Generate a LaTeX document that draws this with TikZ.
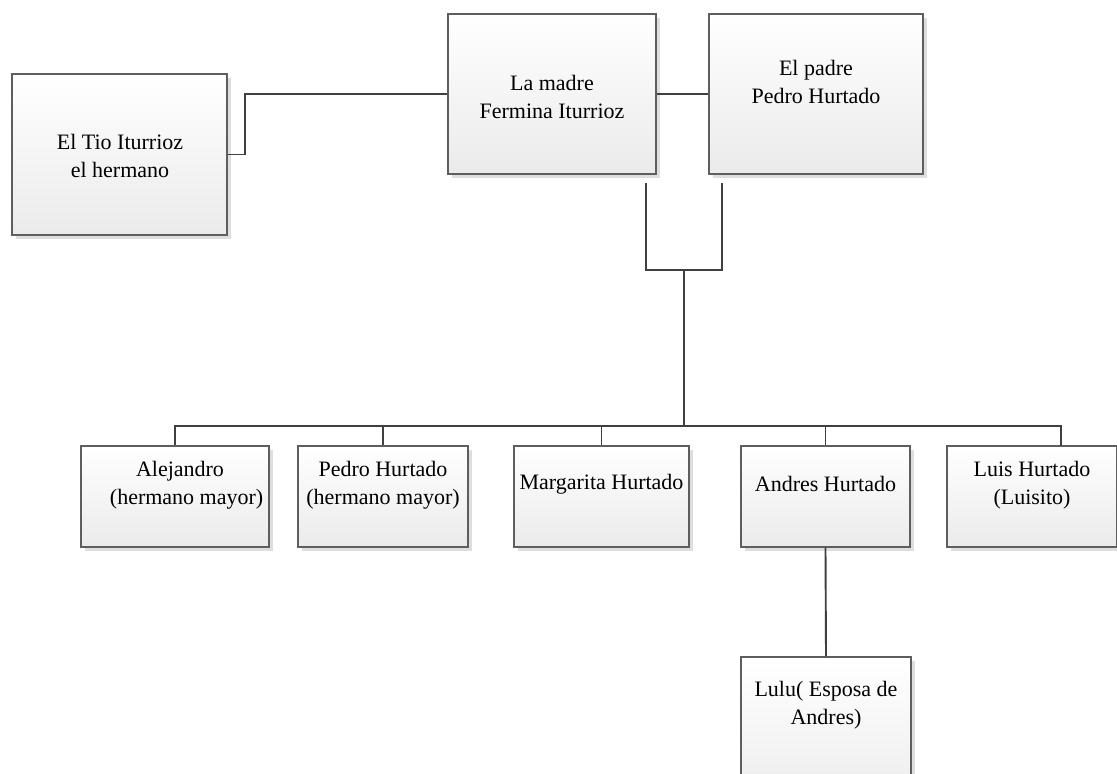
\documentclass[tikz,border=0pt]{standalone}
\usepackage{fontspec}
\setmainfont{Liberation Serif}
\usetikzlibrary{shadows,calc}
\definecolor{boxline}{HTML}{5E5E5E}
\definecolor{wire}{HTML}{404040}
\tikzset{
  famboxst/.style={rectangle, draw=boxline, line width=1.1pt, inner sep=0pt,
    top color=white, bottom color=black!8,
    general shadow={fill=black!13, shadow xshift=3.5pt, shadow yshift=-3.5pt}},
  famtext/.style={align=center, inner sep=0pt, font=\fontsize{22}{28}\selectfont},
  wirest/.style={draw=wire, line width=1.9pt}
}
\begin{document}
\begin{tikzpicture}[x=1pt,y=-1pt]
\useasboundingbox (0,0) rectangle (1117,774);
\clip (0,0) rectangle (1117,774);
% boxes
\node[famboxst, minimum width=215pt, minimum height=161pt] (tio) at (119.5,154.5) {};
\node[famboxst, minimum width=208pt, minimum height=160pt] (madre) at (552,94) {};
\node[famboxst, minimum width=214pt, minimum height=160pt] (padre) at (816,94) {};
\node[famboxst, minimum width=188pt, minimum height=101pt] (ale) at (175,496.5) {};
\node[famboxst, minimum width=170pt, minimum height=101pt] (pedro) at (383,496.5) {};
\node[famboxst, minimum width=175pt, minimum height=101pt] (marg) at (601.5,496.5) {};
\node[famboxst, minimum width=169pt, minimum height=101pt] (andres) at (825.5,496.5) {};
\node[famboxst, minimum width=170pt, minimum height=101pt] (luis) at (1032,496.5) {};
\node[famboxst, minimum width=170pt, minimum height=160pt] (lulu) at (826,737) {};
% texts
\node[famtext] (tiot) at (120,156) {El Tio Iturrioz\\el hermano};
\node[famtext] (madret) at (552,97) {La madre\\Fermina Iturrioz};
\node[famtext] (padret) at (816,82) {El padre\\Pedro Hurtado};
\node[famtext] (alet) at (180,485) {Alejandro\\\hspace*{0.6em}(hermano mayor)};
\node[famtext] (pedrot) at (383,485) {Pedro Hurtado\\(hermano mayor)};
\node[famtext] (margt) at (601.5,484) {Margarita Hurtado};
\node[famtext] (andrest) at (825.5,484) {Andres Hurtado};
\node[famtext] (luist) at (1032,485) {Luis Hurtado\\(Luisito)};
\node[famtext] (lulut) at (826,705) {Lulu( Esposa de\\Andres)};
% coordinates
\coordinate (uleft) at (646,183);
\coordinate (uright) at (722,183);
\coordinate (ubase) at (684,270);
\coordinate (bus) at (684,426);
\coordinate (luisin) at (1061,446);
% connectors
\draw[wirest] (tio.east) -- (245,154.5) |- (madre.west);
\draw[wirest] (madre.east) -- (padre.west);
\draw[wirest] (uleft) |- (ubase) -| (uright);
\draw[wirest] (ubase) -- (bus);
\draw[wirest] (bus) -| (ale.north);
\draw[wirest] (bus) -| (pedro.north);
\draw[wirest] (bus) -| (marg.north);
\draw[wirest] (bus) -| (andres.north);
\draw[wirest] (bus) -| (luisin);
\draw[wirest] (andres.south) -- (lulu.north);
\end{tikzpicture}
\end{document}
